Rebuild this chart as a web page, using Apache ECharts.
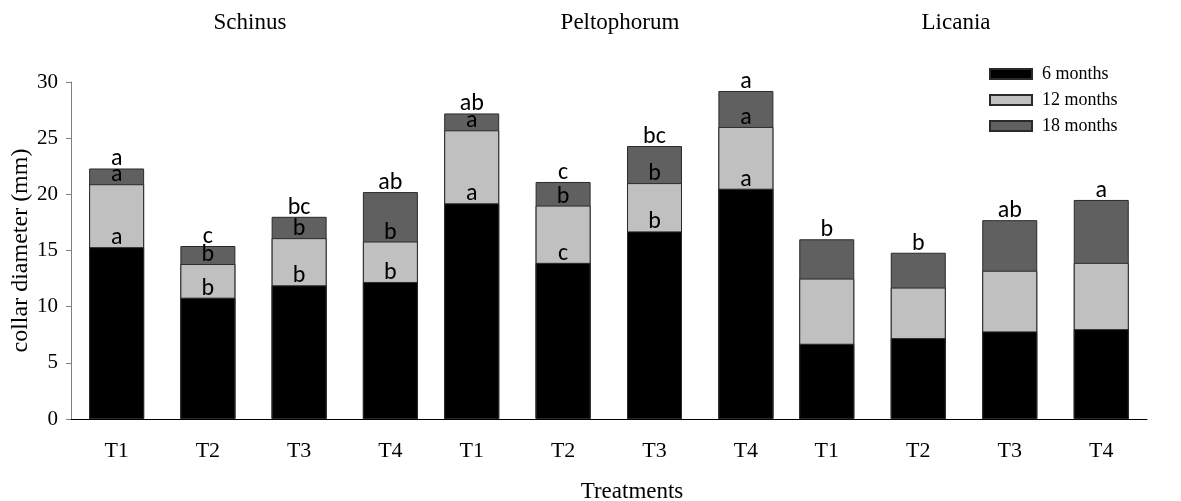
<!DOCTYPE html>
<html>
<head>
<meta charset="utf-8">
<script src="https://cdn.jsdelivr.net/npm/echarts@6/dist/echarts.min.js"></script>
<style>
  html, body { margin: 0; padding: 0; background: #fff; }
  #chart { width: 1181px; height: 501px; }
</style>
</head>
<body>
<div id="chart"></div>
<script>
var species = ['Schinus', 'Peltophorum', 'Licania'];
var treatments = ['T1', 'T2', 'T3', 'T4'];
var periods = ['6 months', '12 months', '18 months'];

// collar diameter (mm) at each age, one row per species
var d6 = [[15.3, 10.8, 11.9, 12.2], [19.2, 13.9, 16.7, 20.5], [6.7, 7.2, 7.8, 8.0]];
var d12 = [[20.9, 13.8, 16.1, 15.8], [25.7, 19.0, 21.0, 26.0], [12.5, 11.7, 13.2, 13.9]];
var d18 = [[22.3, 15.4, 18.0, 20.2], [27.2, 21.1, 24.3, 29.2], [16.0, 14.8, 17.7, 19.5]];

// significance letters
var L6 = [['a', 'b', 'b', 'b'], ['a', 'c', 'b', 'a'], ['', '', '', '']];
var L12 = [['a', 'b', 'b', 'b'], ['a', 'b', 'b', 'a'], ['', '', '', '']];
var L18 = [['a', 'c', 'bc', 'ab'], ['ab', 'c', 'bc', 'a'], ['b', 'b', 'ab', 'a']];

var yTicks = [0, 5, 10, 15, 20, 25, 30];

(function () {
  var serif = "'Liberation Serif', 'Times New Roman', serif";
  var sans = "Carlito, Lato, 'Open Sans', sans-serif";
  var colors = { '6 months': '#000000', '12 months': '#c0c0c0', '18 months': '#606060' };
  var grids = [
    { left: 71, width: 365, top: 82, height: 337 },
    { left: 426, width: 365.6, top: 82, height: 337 },
    { left: 781, width: 366, top: 82, height: 337 }
  ];

  var xAxes = [], yAxes = [], series = [];
  grids.forEach(function (g, i) {
    xAxes.push({
      type: 'category',
      gridIndex: i,
      data: treatments,
      axisLine: { lineStyle: { color: '#000', width: 1 } },
      axisTick: { alignWithLabel: true, length: 4, lineStyle: { color: '#777' } },
      axisLabel: { color: '#000', fontFamily: serif, fontSize: 22, margin: 21 }
    });
    yAxes.push({
      type: 'value',
      gridIndex: i,
      show: i === 0,
      min: yTicks[0],
      max: yTicks[yTicks.length - 1],
      interval: 5,
      name: i === 0 ? 'collar diameter (mm)' : '',
      nameLocation: 'middle',
      nameRotate: 90,
      nameGap: 38,
      nameTextStyle: { color: '#000', fontFamily: serif, fontSize: 24 },
      axisLine: { show: true, lineStyle: { color: '#808080' } },
      axisTick: { show: true, inside: false, length: 5, lineStyle: { color: '#808080' } },
      axisLabel: { color: '#000', fontFamily: serif, fontSize: 21, margin: 13 },
      splitLine: { show: false }
    });

    // drawn back to front: 18, 12, 6 months
    [[periods[2], d18, L18], [periods[1], d12, L12], [periods[0], d6, L6]].forEach(function (s) {
      series.push({
        type: 'bar',
        name: s[0],
        xAxisIndex: i,
        yAxisIndex: i,
        barWidth: 55,
        barGap: '-100%',
        data: s[1][i],
        itemStyle: { color: colors[s[0]], borderColor: '#2a2a2a', borderWidth: 1 },
        label: {
          show: true,
          position: 'top',
          distance: -3,
          color: '#000',
          fontFamily: sans,
          fontSize: 24,
          formatter: (function (letters) {
            return function (p) { return letters[p.dataIndex]; };
          })(s[2][i])
        }
      });
    });
  });

  var titleX = [250, 620, 956];
  var graphics = species.map(function (name, i) {
    return {
      type: 'text', x: titleX[i], y: 23,
      style: { text: name, fill: '#000', font: '23px ' + serif, align: 'center', verticalAlign: 'middle' }
    };
  });
  graphics.push({
    type: 'text', x: 632, y: 492,
    style: { text: 'Treatments', fill: '#000', font: '23px ' + serif, align: 'center', verticalAlign: 'middle' }
  });

  var chart = echarts.init(document.getElementById('chart'), null, { renderer: 'canvas' });
  chart.setOption({
    animation: false,
    backgroundColor: '#fff',
    grid: grids,
    xAxis: xAxes,
    yAxis: yAxes,
    legend: {
      data: periods,
      orient: 'vertical',
      left: 984,
      top: 60,
      itemWidth: 42,
      itemHeight: 10,
      itemGap: 8,
      icon: 'rect',
      textStyle: { color: '#000', fontFamily: serif, fontSize: 18, padding: [0, 0, 0, 5] }
    },
    graphic: graphics,
    series: series
  });
  window.addEventListener('resize', function () { chart.resize(); });
})();
</script>
</body>
</html>
